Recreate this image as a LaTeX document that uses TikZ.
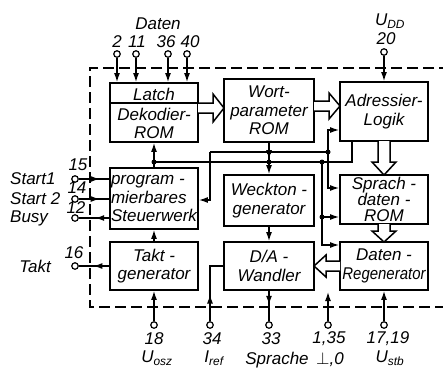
\documentclass[tikz,border=0pt]{standalone}
\usepackage{fontspec}
\setmainfont{Liberation Sans}
\usetikzlibrary{arrows.meta,decorations.markings,calc}
\begin{document}
\begin{tikzpicture}[x=1pt,y=-1pt,
  font=\itshape\fontsize{17}{18.5}\selectfont,
  blk/.style={draw,line width=1.8pt,inner sep=0pt,align=center},
  wire/.style={line width=1.3pt},
  tip/.style={-{Latex[length=9pt,width=6pt]}},
  pin/.style={circle,draw,line width=1.2pt,minimum size=6.5pt,inner sep=0pt,fill=white},
  dot/.style={circle,fill,minimum size=5pt,inner sep=0pt},
  frame/.style={line width=1.4pt,dash pattern=on 11pt off 5pt},
  hollow/.style={line width=1.5pt,fill=white,line join=miter},
  midtip/.style={postaction={decorate},decoration={markings,mark=at position #1 with {\arrow{Latex[length=9pt,width=6pt]}}}},
  lbl/.style={inner sep=0pt},
]
\useasboundingbox (0,0) rectangle (443,368);
\clip (0,0) rectangle (443,368);
% dashed frame
\draw[frame] (450,68) -- (90,68) -- (90,307) -- (450,307);

% blocks
\node[blk,minimum width=88pt,minimum height=59pt] (latch) at (154,112.5) {};
\coordinate (ldiv) at (154,103);
\draw[line width=1.3pt] (latch.west |- ldiv) -- (latch.east |- ldiv);
\node[lbl] (latchtxt) at (154,94) {Latch};
\node[lbl,align=center] (dektxt) at (154,123.5) {Dekodier-\\ROM};
\node[blk,minimum width=90pt,minimum height=63pt] (wort) at (269,110.5) {Wort-\\parameter\\ROM};
\node[blk,minimum width=88pt,minimum height=59pt] (adr) at (384,111.5) {Adressier-\\Logik};
\node[blk,align=left,minimum width=88pt,minimum height=61pt] (steuer) at (154,198.5) {program -\\mierbares\\Steuerwerk};
\node[blk,minimum width=90pt,minimum height=51pt] (weck) at (269,200.5) {Weckton -\\generator};
\node[blk,minimum width=88pt,minimum height=49pt,font=\itshape\fontsize{17}{16}\selectfont] (sprach) at (384,199.5) {Sprach -\\daten -\\ROM};
\node[blk,minimum width=88pt,minimum height=48pt] (takt) at (154,266) {Takt -\\generator};
\node[blk,minimum width=90pt,minimum height=48pt] (da) at (269,266) {D/A -\\Wandler};
\node[blk,minimum width=88pt,minimum height=48pt] (regen) at (384,266) {Daten -\\\scalebox{0.88}[1]{Regenerator}};

% hollow (block) arrows
\draw[hollow] (198,103) -- (213,103) -- (213,94) -- (224,108) -- (213,122) -- (213,113) -- (198,113);
\draw[hollow] (314,101) -- (329,101) -- (329,93) -- (340,106) -- (329,119) -- (329,111) -- (314,111);
\draw[hollow] (378,141) -- (378,162) -- (372,162) -- (384,175) -- (396,162) -- (390,162) -- (390,141);
\draw[hollow] (378,224) -- (378,231) -- (372,231) -- (384,242) -- (396,231) -- (390,231) -- (390,224);
\draw[hollow] (340,261) -- (326,261) -- (326,255) -- (314,266) -- (326,277) -- (326,271) -- (340,271);

% internal buses
\coordinate (a0) at (210,152);
\coordinate (a1) at (328,152);
\coordinate (b0) at (154,162);
\coordinate (b1) at (322,162);
\coordinate (b2) at (352,162);
\coordinate (b3) at (322,217);
\draw[wire] (a0) -- (a1);
\draw[wire,tip] (a0) |- ($(steuer.east)+(0,1.5)$);
\draw[wire,tip] (a1) |- ($(adr.west)+(0,18.5)$);
\draw[wire,tip] (a1) |- ($(sprach.west)+(0,-11.5)$);
\draw[wire] (b0) -- (b2) -- (b2 |- adr.south);
\draw[wire,tip] (b1) |- ($(regen.west)+(0,-21)$);
\draw[wire,tip] (b3) -- (b3 -| sprach.west);
\draw[wire,tip] (steuer.north) -- (latch.south);
\draw[wire,tip,midtip=0.52] (wort.south) -- (weck.north);
\draw[wire,tip] (weck.south) -- (da.north);
\draw[wire,tip] (takt.north) -- (steuer.south);
\node[dot] (d1) at (b0) {};
\node[dot] (d2) at (wort.south |- a0) {};
\node[dot] (d3) at (wort.south |- b0) {};
\node[dot] (d4) at (a1) {};
\node[dot] (d5) at (b1) {};
\node[dot] (d6) at (b3) {};

% top pins
\node[lbl] (datenlbl) at (158,24) {Daten};
\node[pin] (p2) at (117,54) {};
\node[pin] (p11) at (136,54) {};
\node[pin] (p36) at (168,54) {};
\node[pin] (p40) at (187,54) {};
\node[lbl] at (117,42) {2};
\node[lbl] at (137,42) {11};
\node[lbl] at (166,42) {36};
\node[lbl] at (190,42) {40};
\foreach \p in {p2,p11,p36,p40}{
  \draw[wire,tip] (\p) -- (\p |- latch.north);
}
\node[pin] (p20) at (384,52) {};
\node[lbl] at (390,21) {U\textsubscript{DD}};
\node[lbl] at (386,39) {20};
\draw[wire,tip] (p20) -- (adr.north);

% left pins
\node[pin] (p15) at (75,179) {};
\node[pin] (p14) at (75,199) {};
\node[pin] (p12) at (75,218) {};
\node[pin] (p16) at (75,266) {};
\node[lbl,anchor=west] at (10,179) {Start1};
\node[lbl,anchor=west] at (10,199) {Start 2};
\node[lbl,anchor=west] at (10,218) {Busy};
\node[lbl] at (35,266) {Takt};
\node[lbl] at (78,165) {15};
\node[lbl] at (77,188) {14};
\node[lbl] at (76,208) {12};
\node[lbl] at (74,253) {16};
\draw[wire,midtip=0.69] (p15) -- (p15 -| steuer.west);
\draw[wire,midtip=0.69] (p14) -- (p14 -| steuer.west);
\draw[wire,midtip=0.46] (p12 -| steuer.west) -- (p12);
\draw[wire,midtip=0.52] (takt.west) -- (p16);

% bottom pins
\node[pin] (p18) at (154,325) {};
\node[pin] (p34) at (210,325) {};
\node[pin] (p33) at (269,325) {};
\node[pin] (p135) at (328,325) {};
\node[pin] (p1719) at (384,325) {};
\coordinate (gndend) at (328,292);
\draw[wire,tip] (p18) -- (takt.south);
\draw[wire,midtip=0.39] (p34) |- (da.west);
\draw[wire,midtip=0.46] (da.south) -- (p33);
\draw[wire,tip] (p135) -- (gndend);
\draw[wire,tip] (p1719) -- (regen.south);
\node[lbl] at (154,339) {18};
\node[lbl] at (212,339) {34};
\node[lbl] at (271,339) {33};
\node[lbl] at (329,339) {1,35};
\node[lbl] at (388,339) {17,19};
\node[lbl] at (157,358) {U\textsubscript{osz}};
\node[lbl] at (214,358) {I\textsubscript{ref}};
\node[lbl] at (277,360) {Sprache};
\node[lbl] at (330,360) {$\perp$,0};
\node[lbl] at (390,358) {U\textsubscript{stb}};
\end{tikzpicture}
\end{document}
